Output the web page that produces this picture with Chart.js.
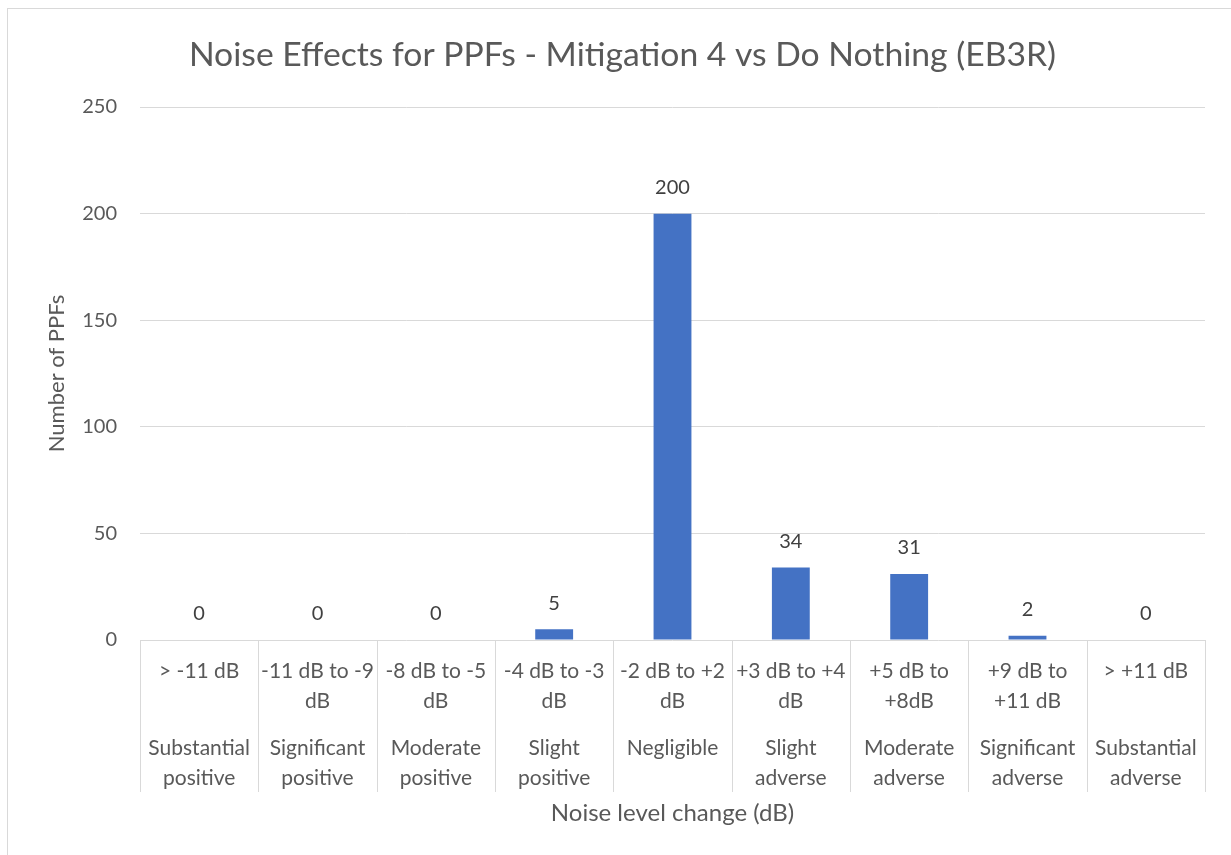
<!DOCTYPE html>
<html>
<head>
<meta charset="utf-8">
<script src="https://cdn.jsdelivr.net/npm/chart.js@4/dist/chart.umd.min.js"></script>
<style>
  html, body { margin: 0; padding: 0; background: #fff; }
  #wrap { position: relative; width: 1231px; height: 855px; overflow: hidden; }
  #frame { position: absolute; left: 7px; top: 8px; width: 1240px; height: 870px; border: 1px solid #d9d9d9; box-sizing: border-box; }
  canvas { position: absolute; left: 0; top: 0; }
</style>
</head>
<body>
<div id="wrap">
  <div id="frame"></div>
  <canvas id="myChart" width="1231" height="855"></canvas>
</div>
<script>
const rangeLabels = [
  ["> -11 dB"],
  ["-11 dB to -9", "dB"],
  ["-8 dB to -5", "dB"],
  ["-4 dB to -3", "dB"],
  ["-2 dB to +2", "dB"],
  ["+3 dB to +4", "dB"],
  ["+5 dB to", "+8dB"],
  ["+9 dB to", "+11 dB"],
  ["> +11 dB"]
];
const effectLabels = [
  ["Substantial", "positive"],
  ["Significant", "positive"],
  ["Moderate", "positive"],
  ["Slight", "positive"],
  ["Negligible"],
  ["Slight", "adverse"],
  ["Moderate", "adverse"],
  ["Significant", "adverse"],
  ["Substantial", "adverse"]
];
const ppfCounts = [0, 0, 0, 5, 200, 34, 31, 2, 0];
const yTicks = [0, 50, 100, 150, 200, 250];

const textColor = "#595959";
const gridColor = "#d9d9d9";
const fontFamily = "Lato, 'Open Sans', sans-serif";

// value labels above each bar
const valueLabels = {
  id: "valueLabels",
  afterDatasetsDraw(chart) {
    const ctx = chart.ctx;
    const meta = chart.getDatasetMeta(0);
    ctx.save();
    ctx.font = "20px " + fontFamily;
    ctx.fillStyle = "#404040";
    ctx.textAlign = "center";
    ctx.textBaseline = "middle";
    meta.data.forEach((bar, i) => {
      ctx.fillText(String(ppfCounts[i]), bar.x, bar.y - 26);
    });
    ctx.restore();
  }
};

// vertical separators between category labels
const separators = {
  id: "separators",
  afterDraw(chart) {
    const x = chart.scales.x;
    const ctx = chart.ctx;
    const top = chart.chartArea.bottom;
    const half = (x.getPixelForValue(1) - x.getPixelForValue(0)) / 2;
    ctx.save();
    ctx.strokeStyle = gridColor;
    ctx.lineWidth = 1;
    for (let i = 0; i <= ppfCounts.length; i++) {
      const px = Math.round(x.getPixelForValue(0) - half + i * half * 2) + 0.5;
      ctx.beginPath();
      ctx.moveTo(px, top);
      ctx.lineTo(px, top + 152);
      ctx.stroke();
    }
    ctx.restore();
  }
};

new Chart(document.getElementById("myChart"), {
  type: "bar",
  data: {
    labels: rangeLabels,
    datasets: [{
      label: "PPFs",
      data: ppfCounts,
      backgroundColor: "#4472C4",
      borderWidth: 0,
      categoryPercentage: 1,
      barPercentage: 0.32
    }]
  },
  options: {
    responsive: false,
    animation: false,
    layout: { padding: { left: 40, right: 26, top: 0, bottom: 25 } },
    plugins: {
      legend: { display: false },
      tooltip: { enabled: false },
      title: {
        display: true,
        text: "Noise Effects for PPFs - Mitigation 4 vs Do Nothing (EB3R)",
        color: textColor,
        font: { family: fontFamily, size: 33.7, weight: "normal" },
        padding: { top: 34.6, bottom: 32 }
      }
    },
    scales: {
      x: {
        weight: 1,
        offset: true,
        grid: { display: false },
        border: { display: false },
        ticks: {
          color: textColor,
          font: { family: fontFamily, size: 21, lineHeight: 1.43 },
          padding: 8,
          maxRotation: 0,
          minRotation: 0,
          autoSkip: false
        },
        afterFit(scale) { scale.height = 75; }
      },
      x2: {
        type: "category",
        position: "bottom",
        weight: 2,
        offset: true,
        labels: effectLabels,
        grid: { display: false },
        border: { display: false },
        ticks: {
          color: textColor,
          font: { family: fontFamily, size: 21, lineHeight: 1.43 },
          padding: 10,
          maxRotation: 0,
          minRotation: 0,
          autoSkip: false
        },
        title: {
          display: true,
          text: "Noise level change (dB)",
          color: textColor,
          font: { family: fontFamily, size: 24 },
          padding: { top: 0, bottom: 2.6 }
        },
        afterFit(scale) { scale.height = 115; }
      },
      y: {
        min: 0,
        max: 250,
        afterBuildTicks(scale) { scale.ticks = yTicks.map(v => ({ value: v })); },
        grid: { color: gridColor, drawTicks: false },
        border: { display: false },
        ticks: {
          color: textColor,
          font: { family: fontFamily, size: 20 },
          padding: 23
        },
        title: {
          display: true,
          text: "Number of PPFs",
          color: textColor,
          font: { family: fontFamily, size: 22 },
          padding: { top: 4, bottom: 0 }
        },
        afterFit(scale) { scale.width = 100; }
      }
    }
  },
  plugins: [valueLabels, separators]
});
</script>
</body>
</html>
